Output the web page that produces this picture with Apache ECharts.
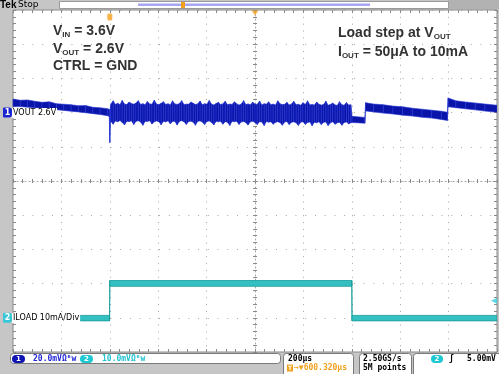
<!DOCTYPE html>
<html><head><meta charset="utf-8">
<script src="https://cdn.jsdelivr.net/npm/echarts@6/dist/echarts.min.js"></script>
<style>html,body{margin:0;padding:0;background:#c6c6c6}#c{width:499px;height:374px}</style>
</head><body><div id="c"></div><script>
// ---- axes (oscilloscope settings) ----
const timeRange = [-400, 1600];      // µs, trigger at 0, 200 µs/div
const timeDiv = 200;
const voutRange = [2460, 2660];      // mV, 20 mV/div
const voutDiv = 20;
const voutOffset = 2600;             // ch1 marker (2.6 V)
const iloadRange = [-10, 90];        // mA, 10 mA/div
const iloadDiv = 10;
const iloadZero = 0;                 // ch2 marker
const trigTime = 0;
const trigLevel = 5;                 // mA (5.00 mV on ch2)
const centerTime = 600;

// ---- VOUT trace envelope (mV) ----
const voutTime = [-400,-370,-340,-310,-280,-250,-220,-190,-160,-130,-100,-70,-40,-10,-2,
  0,3,
  5,14,23,33,42,51,61,70,80,89,
  99,108,118,127,137,146,155,165,174,184,
  193,203,212,222,231,241,250,259,269,278,
  288,297,307,316,326,335,345,354,363,373,
  382,392,401,411,420,430,439,449,458,467,
  477,486,496,505,515,524,534,543,553,562,
  571,581,590,600,609,619,628,638,647,656,
  666,675,685,694,704,713,723,732,741,751,
  760,770,779,789,798,808,817,827,836,845,
  855,864,874,883,893,902,912,921,931,940,
  949,959,968,978,987,996,
  1001,1054,
  1057,1090,1130,1170,1210,1250,1290,1330,1370,1395,
  1398,1430,1470,1510,1550,1600];
const voutHigh = [2607.9,2607.2,2607.4,2606.6,2606.0,2606.3,2605.2,2604.9,2604.6,2604.0,2604.1,2603.1,2602.8,2602.3,2601.9,
  2600.0,2603.5,
  2605.2,2606.9,2604.8,2605.5,2604.6,2607.1,2605.0,2604.7,2606.2,2605.3,
  2604.9,2605.6,2607.0,2604.8,2605.2,2604.6,2606.5,2605.1,2604.9,2607.3,
  2605.0,2604.7,2605.4,2606.4,2604.8,2605.2,2604.5,2606.9,2605.1,2604.8,
  2605.3,2607.0,2604.6,2605.0,2604.9,2606.2,2605.4,2604.7,2605.1,2606.8,
  2604.6,2605.2,2604.9,2607.1,2605.0,2604.5,2605.3,2606.0,2604.8,2605.1,
  2606.7,2604.6,2605.0,2604.8,2606.3,2605.2,2604.4,2605.0,2607.0,2604.7,
  2605.1,2604.6,2606.1,2605.0,2604.8,2606.8,2604.5,2605.2,2604.9,2606.3,
  2604.6,2605.0,2604.4,2606.9,2605.1,2604.7,2604.9,2606.0,2604.5,2605.0,
  2606.6,2604.6,2604.9,2604.3,2605.8,2604.8,2606.9,2604.5,2604.8,2604.4,
  2606.2,2604.9,2604.4,2604.7,2606.7,2604.3,2604.8,2605.6,2604.5,2604.2,
  2606.4,2604.6,2604.3,2605.9,2604.4,2604.6,
  2597.8,2597.2,
  2605.8,2605.0,2604.6,2603.8,2603.4,2602.6,2602.0,2601.4,2600.8,2600.2,
  2608.6,2606.9,2606.2,2605.6,2605.0,2604.3];
const voutLow = [2603.6,2603.5,2603.2,2602.9,2602.6,2602.1,2601.7,2601.3,2600.8,2600.4,2599.9,2599.4,2598.9,2598.2,2597.7,
  2582.4,2596.0,
  2594.8,2593.2,2595.1,2594.6,2595.4,2594.3,2592.8,2595.0,2594.7,2595.3,
  2593.0,2594.9,2595.2,2594.5,2592.6,2595.0,2594.8,2595.3,2593.3,2594.6,
  2595.1,2594.7,2592.9,2595.0,2594.5,2595.2,2593.4,2594.8,2595.0,2592.7,
  2594.9,2595.3,2594.6,2593.1,2594.8,2595.0,2594.4,2592.6,2594.9,2595.1,
  2594.5,2593.0,2594.8,2595.1,2594.3,2592.8,2594.9,2594.6,2595.0,2593.2,
  2594.7,2594.4,2592.5,2594.9,2594.6,2595.0,2593.1,2594.5,2594.8,2594.2,
  2592.7,2594.6,2594.9,2594.3,2593.0,2594.7,2594.5,2592.4,2594.8,2594.4,
  2594.6,2593.2,2594.3,2594.7,2594.1,2592.6,2594.5,2594.8,2593.0,2594.3,
  2594.6,2594.0,2592.5,2594.4,2594.7,2593.1,2594.2,2594.5,2592.3,2594.4,
  2594.0,2594.6,2593.0,2594.3,2594.5,2592.4,2594.1,2594.6,2593.2,2594.0,
  2594.4,2592.6,2594.2,2594.5,2593.4,2594.1,
  2594.2,2593.8,
  2601.0,2600.4,2599.7,2599.2,2598.5,2598.0,2597.3,2596.8,2596.0,2595.4,
  2603.4,2602.9,2602.2,2601.6,2600.9,2600.2];

// ---- ILOAD trace envelope (mA) ----
const iloadTime = [-400, -1, 0, 1000, 1001, 1600];
const iloadLow  = [-0.9, -0.9, 9.2, 9.2, -0.9, -0.9];
const iloadHigh = [0.7, 0.7, 10.9, 10.9, 0.7, 0.7];

function bandData(t, lo, hi) {
  const out = [];
  for (let i = 0; i < t.length - 1; i++) out.push([t[i], lo[i], hi[i], t[i + 1], lo[i + 1], hi[i + 1]]);
  return out;
}
function bandRender(fill, stroke, lw) {
  return function (params, api) {
    const a = api.coord([api.value(0), api.value(2)]);
    const b = api.coord([api.value(3), api.value(5)]);
    const c = api.coord([api.value(3), api.value(4)]);
    const d = api.coord([api.value(0), api.value(1)]);
    return { type: 'polygon', shape: { points: [a, b, c, d] }, style: { fill: fill, stroke: stroke, lineWidth: lw } };
  };
}

const frame = '#8a8a8a';
const gridDot = '#a4a4a4';
const ticks = (inside, len) => ({
  axisTick: { show: true, inside: inside, length: len, lineStyle: { color: frame } },
  minorTick: { show: true, splitNumber: 5, length: len, lineStyle: { color: frame } }
});

const chart = echarts.init(document.getElementById('c'), null, { renderer: 'canvas', width: 499, height: 374 });
const subStyle = { fontSize: 8, fontWeight: 'bold', fontFamily: 'Liberation Sans', lineHeight: 12, verticalAlign: 'bottom', fill: '#333' };
const bigText = (x, y, text) => ({
  type: 'text', x: x, y: y, z: 100,
  style: { text: text, fontSize: 14, fontWeight: 'bold', fontFamily: 'Liberation Sans', fill: '#333', lineHeight: 16, verticalAlign: 'middle', rich: { s: subStyle } }
});
const mono = (x, y, text, color) => ({
  type: 'text', x: x, y: y, z: 100,
  style: { text: text, font: 'bold 8px "DejaVu Sans Mono"', fill: color, verticalAlign: 'middle' }
});
const pill = (x, y, w, color, label) => ([
  { type: 'rect', x: x, y: y, z: 100, shape: { width: w, height: 8, r: 4 }, style: { fill: color } },
  { type: 'text', x: x + w / 2, y: y + 4, z: 101, style: { text: label, font: 'bold 7px "DejaVu Sans"', fill: '#fff', align: 'center', verticalAlign: 'middle' } }
]);
const box = (x, y, w, h) => ({ type: 'rect', x: x, y: y, z: 90, shape: { width: w, height: h, r: 3 }, style: { fill: '#fff', stroke: '#7a7a7a', lineWidth: 1 } });

chart.setOption({
  backgroundColor: '#c6c6c6',
  animation: false,
  grid: { left: 10, right: 2, top: 10, bottom: 22, show: true, backgroundColor: '#fff', borderColor: frame, borderWidth: 1 },
  xAxis: [
    Object.assign({ type: 'value', min: timeRange[0], max: timeRange[1], interval: timeDiv, position: 'bottom',
      axisLine: { show: false, onZero: false }, axisLabel: { show: false },
      splitLine: { show: true, lineStyle: { color: gridDot, type: [1, 5.84] } } }, ticks(true, 3)),
    Object.assign({ type: 'value', min: timeRange[0], max: timeRange[1], interval: timeDiv, position: 'top',
      axisLine: { show: false, onZero: false }, axisLabel: { show: false }, splitLine: { show: false } }, ticks(true, 3)),
    Object.assign({ type: 'value', min: -5, max: 5, interval: 1, position: 'bottom',
      axisLine: { show: true, onZero: true, onZeroAxisIndex: 2, lineStyle: { color: gridDot, type: [1, 3] } },
      axisLabel: { show: false }, splitLine: { show: false } }, ticks(true, 2)),
    Object.assign({ type: 'value', min: -5, max: 5, interval: 1, position: 'bottom',
      axisLine: { show: false, onZero: true, onZeroAxisIndex: 2 },
      axisLabel: { show: false }, splitLine: { show: false } }, ticks(false, 2))
  ],
  yAxis: [
    Object.assign({ type: 'value', min: voutRange[0], max: voutRange[1], interval: voutDiv, position: 'left',
      axisLine: { show: false, onZero: false },
      axisLabel: { show: true, margin: 1, formatter: v => (v === voutOffset ? '{a|1}' : ''),
        rich: { a: { backgroundColor: '#1a24d0', color: '#fff', fontSize: 8, fontWeight: 'bold', fontFamily: 'DejaVu Sans', width: 9, height: 10, lineHeight: 10, align: 'center', borderRadius: [1, 3, 3, 1] } } },
      splitLine: { show: true, lineStyle: { color: gridDot, type: [1, 8.74] } } }, ticks(true, 3)),
    { type: 'value', min: iloadRange[0], max: iloadRange[1], interval: iloadDiv, position: 'left',
      axisLine: { show: false, onZero: false }, axisTick: { show: false },
      axisLabel: { show: true, margin: 1, formatter: v => (v === iloadZero ? '{b|2}' : ''),
        rich: { b: { backgroundColor: '#38c8d6', color: '#fff', fontSize: 8, fontWeight: 'bold', fontFamily: 'DejaVu Sans', width: 9, height: 10, lineHeight: 10, align: 'center', borderRadius: [1, 3, 3, 1] } } },
      splitLine: { show: false } },
    Object.assign({ type: 'value', min: -5, max: 5, interval: 1, position: 'right',
      axisLine: { show: false, onZero: false }, axisLabel: { show: false }, splitLine: { show: false } }, ticks(true, 3)),
    Object.assign({ type: 'value', min: -5, max: 5, interval: 1, position: 'left',
      axisLine: { show: true, onZero: true, onZeroAxisIndex: 2, lineStyle: { color: gridDot, type: [1, 3] } },
      axisLabel: { show: false }, splitLine: { show: false } }, ticks(true, 2)),
    Object.assign({ type: 'value', min: -5, max: 5, interval: 1, position: 'left',
      axisLine: { show: false, onZero: true, onZeroAxisIndex: 2 },
      axisLabel: { show: false }, splitLine: { show: false } }, ticks(false, 2))
  ],
  series: [
    { type: 'custom', name: 'ILOAD', xAxisIndex: 0, yAxisIndex: 1, clip: true, z: 3,
      dimensions: ['t0', 'lo0', 'hi0', 't1', 'lo1', 'hi1'], encode: { x: [0, 3], y: [1, 2, 4, 5] },
      renderItem: bandRender('#34c0c0', '#159a9a', 0.8), data: bandData(iloadTime, iloadLow, iloadHigh) },
    { type: 'custom', name: 'VOUT', xAxisIndex: 0, yAxisIndex: 0, clip: true, z: 4,
      dimensions: ['t0', 'lo0', 'hi0', 't1', 'lo1', 'hi1'], encode: { x: [0, 3], y: [1, 2, 4, 5] },
      renderItem: bandRender('#0a14a8', '#2434d4', 0.6), data: bandData(voutTime, voutLow, voutHigh) },
    { type: 'scatter', xAxisIndex: 0, yAxisIndex: 1, clip: false, silent: true, z: 6,
      data: [[timeRange[1], trigLevel]], symbol: 'triangle', symbolRotate: 90, symbolSize: [6, 6], symbolOffset: [-3, 0],
      itemStyle: { color: '#33d0e0' } },
    { type: 'scatter', xAxisIndex: 0, yAxisIndex: 1, clip: false, silent: true, z: 6,
      data: [[trigTime, iloadRange[1]]], symbol: 'roundRect', symbolSize: [5, 7], symbolOffset: [0, 7],
      itemStyle: { color: '#f2a11f' } },
    { type: 'scatter', xAxisIndex: 0, yAxisIndex: 1, clip: false, silent: true, z: 6,
      data: [[centerTime, iloadRange[1]]], symbol: 'triangle', symbolRotate: 180, symbolSize: [7, 5], symbolOffset: [0, 3],
      itemStyle: { color: '#f2a11f' } }
  ],
  graphic: [].concat(
    [
      { type: 'rect', x: 448, y: 0, z: 50, shape: { width: 51, height: 9 }, style: { fill: '#b2b2b2' } },
      { type: 'rect', x: 59.5, y: 1.5, z: 50, shape: { width: 389, height: 7 }, style: { fill: '#fff', stroke: '#9a9a9a' } },
      { type: 'rect', x: 138, y: 3.5, z: 51, shape: { width: 232, height: 2.5 }, style: { fill: '#a6a6f2' } },
      { type: 'rect', x: 181, y: 2, z: 52, shape: { width: 4, height: 6 }, style: { fill: '#f2a11f' } },
      { type: 'text', x: 0, y: 5, z: 100, style: { text: 'Tek', font: 'bold 10px "Liberation Sans"', fill: '#000', verticalAlign: 'middle' } },
      { type: 'text', x: 18, y: 5, z: 100, style: { text: 'Stop', font: '9px "DejaVu Sans"', fill: '#000', verticalAlign: 'middle' } },
      bigText(53, 31, 'V{s|IN} = 3.6V'),
      bigText(53, 49, 'V{s|OUT} = 2.6V'),
      bigText(53, 66, 'CTRL = GND'),
      bigText(338, 33, 'Load step at V{s|OUT}'),
      bigText(338, 52, 'I{s|OUT} = 50μA to 10mA'),
      { type: 'text', x: 12, y: 113, z: 100, style: { text: 'VOUT 2.6V', font: '8px "DejaVu Sans"', fill: '#000', verticalAlign: 'middle', backgroundColor: '#fff', padding: [1, 1, 1, 1] } },
      { type: 'text', x: 12, y: 318, z: 100, style: { text: 'ILOAD 10mA/Div', font: '8px "DejaVu Sans"', fill: '#000', verticalAlign: 'middle', backgroundColor: '#fff', padding: [1, 1, 1, 1] } },
      box(10.5, 353.5, 270, 10),
      mono(33, 359, '20.0mVΩᴮw', '#2328d6'),
      mono(102, 359, '10.0mVΩᴮw', '#22c2d2'),
      box(283.5, 353.5, 70, 24),
      mono(288, 359, '200μs', '#000'),
      { type: 'rect', x: 287, y: 364.5, z: 100, shape: { width: 6, height: 7 }, style: { fill: '#f2a11f' } },
      { type: 'text', x: 290, y: 368, z: 101, style: { text: 'T', font: 'bold 6px "DejaVu Sans"', fill: '#fff', align: 'center', verticalAlign: 'middle' } },
      mono(294, 368, '→▼600.320μs', '#f2a11f'),
      box(359.5, 353.5, 52, 24),
      mono(363, 359, '2.50GS/s', '#000'),
      mono(363, 368, '5M points', '#000'),
      box(413.5, 353.5, 90, 24),
      mono(449, 359, 'ʃ', '#000'),
      mono(467, 359, '5.00mV', '#000')
    ],
    pill(12, 355, 13, '#1014b4', '1'),
    pill(80, 355, 13, '#1ec8d2', '2'),
    pill(431, 355, 12, '#1ec8d2', '2')
  )
});
</script></body></html>
